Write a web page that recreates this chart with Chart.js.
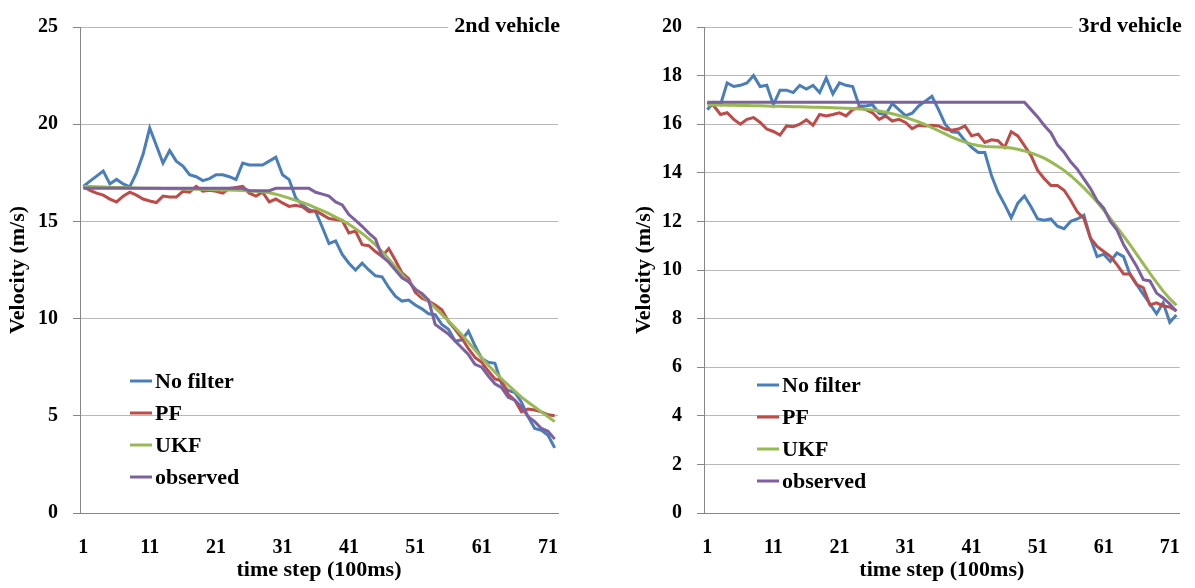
<!DOCTYPE html>
<html>
<head>
<meta charset="utf-8">
<script src="https://cdn.jsdelivr.net/npm/chart.js@4.4.1/dist/chart.umd.min.js"></script>
<style>
  html, body { margin: 0; padding: 0; background: #fff; }
  #wrap { position: relative; width: 1195px; height: 588px; }
  canvas { position: absolute; top: 0; }
  #chart2 { left: 0; }
  #chart3 { left: 597px; }
</style>
</head>
<body>
<div id="wrap">
  <canvas id="chart2" width="597" height="588"></canvas>
  <canvas id="chart3" width="598" height="588"></canvas>
</div>
<script>
// time steps 1..72 (100 ms each)
const steps = Array.from({ length: 72 }, (_, i) => String(i + 1));
const seriesNames = ['No filter', 'PF', 'UKF', 'observed'];
const seriesColors = ['#4a7ebb', '#be4b48', '#98b954', '#7d60a0'];

// 2nd vehicle
const noFilter2 = [16.8, 17.07, 17.33, 17.59, 16.93, 17.16, 16.93, 16.78, 17.5, 18.45,
  19.8, 18.9, 18.0, 18.65, 18.1, 17.85, 17.4, 17.3, 17.1, 17.2,
  17.4, 17.4, 17.3, 17.15, 18.0, 17.9, 17.9, 17.9, 18.1, 18.3,
  17.4, 17.15, 16.2, 15.85, 15.6, 15.5, 14.7, 13.86, 14.0, 13.3,
  12.85, 12.5, 12.85, 12.5, 12.2, 12.15, 11.6, 11.15, 10.9, 10.95,
  10.7, 10.5, 10.25, 10.2, 9.7, 9.45, 8.85, 8.9, 9.35, 8.6,
  7.95, 7.75, 7.7, 6.65, 6.3, 6.2, 5.7, 4.95, 4.35, 4.25,
  4.0, 3.35];
const pf2 = [16.8, 16.6, 16.45, 16.35, 16.15, 16.0, 16.3, 16.5, 16.35, 16.15,
  16.05, 15.97, 16.3, 16.25, 16.25, 16.55, 16.5, 16.8, 16.55, 16.6,
  16.55, 16.45, 16.7, 16.75, 16.8, 16.45, 16.3, 16.5, 16.0, 16.15,
  15.95, 15.77, 15.83, 15.75, 15.5, 15.55, 15.35, 15.15, 15.1, 15.05,
  14.4, 14.5, 13.8, 13.75, 13.45, 13.2, 13.6, 13.0, 12.35, 12.05,
  11.35, 11.05, 10.9, 10.7, 10.45, 9.85, 9.45, 9.0, 8.45, 8.0,
  7.75, 7.3, 6.9, 6.8, 6.1, 5.8, 5.2, 5.35, 5.3, 5.2,
  5.05, 5.0];
const ukf2 = [16.8, 16.79, 16.78, 16.77, 16.76, 16.75, 16.74, 16.73, 16.72, 16.71,
  16.7, 16.7, 16.69, 16.68, 16.68, 16.67, 16.66, 16.66, 16.65, 16.64,
  16.63, 16.62, 16.61, 16.6, 16.59, 16.57, 16.55, 16.52, 16.47, 16.4,
  16.3, 16.2, 16.08, 15.97, 15.85, 15.7, 15.55, 15.4, 15.22, 15.05,
  14.85, 14.62, 14.38, 14.1, 13.8, 13.45, 13.07, 12.67, 12.27, 11.9,
  11.55, 11.2, 10.87, 10.55, 10.22, 9.88, 9.53, 9.17, 8.78, 8.38,
  7.98, 7.6, 7.25, 6.9, 6.58, 6.27, 5.96, 5.7, 5.45, 5.2,
  4.95, 4.7];
const observed2 = [16.7, 16.7, 16.7, 16.7, 16.7, 16.7, 16.7, 16.7, 16.7, 16.7,
  16.7, 16.7, 16.7, 16.7, 16.7, 16.7, 16.7, 16.7, 16.7, 16.7,
  16.7, 16.7, 16.7, 16.7, 16.7, 16.58, 16.58, 16.58, 16.58, 16.7,
  16.7, 16.7, 16.7, 16.7, 16.7, 16.5, 16.4, 16.3, 16.0, 15.85,
  15.35, 15.05, 14.75, 14.4, 14.1, 13.2, 12.9, 12.5, 12.1, 11.9,
  11.5, 11.3, 10.95, 9.7, 9.45, 9.2, 8.85, 8.5, 8.15, 7.65,
  7.5, 7.05, 6.65, 6.45, 5.95, 5.8, 5.45, 4.95, 4.7, 4.35,
  4.2, 3.8];

// 3rd vehicle
const noFilter3 = [16.6, 16.9, 16.8, 17.7, 17.55, 17.6, 17.7, 18.0, 17.55, 17.6,
  16.8, 17.4, 17.4, 17.3, 17.6, 17.45, 17.6, 17.3, 17.9, 17.25,
  17.7, 17.6, 17.55, 16.75, 16.75, 16.8, 16.45, 16.4, 16.85, 16.6,
  16.35, 16.45, 16.75, 16.95, 17.15, 16.6, 16.0, 15.69, 15.66, 15.32,
  15.05, 14.84, 14.84, 13.9, 13.2, 12.7, 12.15, 12.75, 13.05, 12.6,
  12.1, 12.05, 12.1, 11.8, 11.7, 12.0, 12.1, 12.25, 11.3, 10.55,
  10.65, 10.35, 10.7, 10.55, 9.8, 9.4, 9.0, 8.6, 8.2, 8.65,
  7.85, 8.15];
const pf3 = [16.9, 16.75, 16.4, 16.47, 16.2, 16.0, 16.2, 16.27, 16.07, 15.8,
  15.7, 15.55, 15.93, 15.9, 16.0, 16.18, 15.96, 16.4, 16.34, 16.4,
  16.47, 16.34, 16.6, 16.68, 16.6, 16.47, 16.2, 16.34, 16.13, 16.2,
  16.07, 15.82, 15.96, 15.93, 15.96, 15.93, 15.8, 15.75, 15.8, 15.93,
  15.52, 15.59, 15.25, 15.36, 15.32, 15.05, 15.69, 15.52, 15.12, 14.71,
  14.1, 13.76, 13.48, 13.48, 13.28, 12.87, 12.39, 12.12, 11.31, 10.97,
  10.76, 10.56, 10.22, 9.84, 9.84, 9.4, 9.27, 8.56, 8.65, 8.52,
  8.48, 8.31];
const ukf3 = [16.8, 16.79, 16.79, 16.78, 16.78, 16.77, 16.77, 16.76, 16.76, 16.75,
  16.74, 16.74, 16.73, 16.72, 16.72, 16.71, 16.7, 16.7, 16.69, 16.68,
  16.67, 16.66, 16.65, 16.63, 16.61, 16.58, 16.54, 16.49, 16.43, 16.36,
  16.28, 16.19, 16.09, 15.98, 15.86, 15.73, 15.6, 15.47, 15.36, 15.26,
  15.18, 15.12, 15.08, 15.07, 15.06, 15.05, 15.02, 14.97, 14.9, 14.82,
  14.72, 14.6, 14.45, 14.28, 14.1, 13.88, 13.64, 13.38, 13.1, 12.8,
  12.47, 12.12, 11.76, 11.4, 11.03, 10.64, 10.25, 9.86, 9.49, 9.13,
  8.82, 8.55];
const observed3 = [16.9, 16.9, 16.9, 16.9, 16.9, 16.9, 16.9, 16.9, 16.9, 16.9,
  16.9, 16.9, 16.9, 16.9, 16.9, 16.9, 16.9, 16.9, 16.9, 16.9,
  16.9, 16.9, 16.9, 16.9, 16.9, 16.9, 16.9, 16.9, 16.9, 16.9,
  16.9, 16.9, 16.9, 16.9, 16.9, 16.9, 16.9, 16.9, 16.9, 16.9,
  16.9, 16.9, 16.9, 16.9, 16.9, 16.9, 16.9, 16.9, 16.9, 16.6,
  16.3, 15.95, 15.65, 15.15, 14.85, 14.45, 14.15, 13.75, 13.35, 12.85,
  12.55, 12.0, 11.65, 11.05, 10.6, 10.15, 9.6, 9.55, 9.05, 8.85,
  8.6, 8.3];

const serif = '"Liberation Serif", "Times New Roman", serif';

// title in the top right corner, boxed in white over the top grid line
const cornerTitle = {
  id: 'cornerTitle',
  beforeDatasetsDraw(chart, args, o) {
    const { ctx, chartArea } = chart;
    ctx.save();
    ctx.font = 'bold 22px ' + serif;
    const w = ctx.measureText(o.text).width;
    const x = chartArea.right + 2;
    const y = chartArea.top - 1;
    ctx.fillStyle = '#fff';
    ctx.fillRect(x - w - 6, y - 14, w + 12, 28);
    ctx.fillStyle = '#000';
    ctx.textAlign = 'right';
    ctx.textBaseline = 'middle';
    ctx.fillText(o.text, x, y);
    ctx.restore();
  }
};

// legend drawn inside the plot, lower left
const innerLegend = {
  id: 'innerLegend',
  afterDatasetsDraw(chart, args, o) {
    const ctx = chart.ctx;
    ctx.save();
    ctx.font = 'bold 22px ' + serif;
    ctx.textBaseline = 'middle';
    chart.data.datasets.forEach((ds, i) => {
      const y = o.y + i * 32;
      ctx.strokeStyle = ds.borderColor;
      ctx.lineWidth = 3;
      ctx.beginPath();
      ctx.moveTo(o.x, y);
      ctx.lineTo(o.x + 22, y);
      ctx.stroke();
      ctx.fillStyle = '#000';
      ctx.fillText(ds.label, o.x + 25, y + 1);
    });
    ctx.restore();
  }
};

function makeChart(id, title, series, yMax, yWidth, yTitlePad, padRight, legendPos) {
  const datasets = series.map((values, i) => ({
    label: seriesNames[i],
    data: values,
    borderColor: seriesColors[i],
    backgroundColor: seriesColors[i],
    borderWidth: 3,
    pointRadius: 0,
    tension: 0,
    order: 3 - i
  }));

  return new Chart(document.getElementById(id), {
    type: 'line',
    data: { labels: steps, datasets },
    options: {
      responsive: false,
      animation: false,
      layout: { padding: { top: 23, right: padRight, bottom: 0, left: 0 } },
      plugins: {
        legend: { display: false },
        tooltip: { enabled: false },
        cornerTitle: { text: title },
        innerLegend: legendPos
      },
      scales: {
        x: {
          offset: true,
          grid: { display: false },
          border: { display: true, color: '#868686', width: 1 },
          ticks: {
            autoSkip: false,
            maxRotation: 0,
            padding: 15,
            color: '#000',
            font: { family: serif, size: 20, weight: 'bold' },
            callback(v, i) { return i % 10 === 0 ? this.getLabelForValue(v) : null; }
          },
          title: {
            display: true,
            text: 'time step (100ms)',
            color: '#000',
            font: { family: serif, size: 22, weight: 'bold' },
            padding: { top: 0, bottom: 4 }
          },
          afterFit(s) { s.height = 75; }
        },
        y: {
          min: 0,
          max: yMax,
          ticks: {
            stepSize: yMax === 25 ? 5 : 2,
            padding: 15,
            color: '#000',
            font: { family: serif, size: 20, weight: 'bold' }
          },
          grid: { color: '#b8b8b8', tickColor: '#868686', tickLength: 7, lineWidth: 1 },
          border: { color: '#868686', width: 1 },
          title: {
            display: true,
            text: 'Velocity (m/s)',
            color: '#000',
            font: { family: serif, size: 22, weight: 'bold' },
            padding: { top: yTitlePad, bottom: 0 }
          },
          afterFit(s) { s.width = yWidth; }
        }
      }
    },
    plugins: [cornerTitle, innerLegend]
  });
}

makeChart('chart2', '2nd vehicle', [noFilter2, pf2, ukf2, observed2], 25, 80, 5, 39, { x: 130, y: 381 });
makeChart('chart3', '3rd vehicle', [noFilter3, pf3, ukf3, observed3], 20, 107, 34, 11, { x: 160, y: 385 });
</script>
</body>
</html>
